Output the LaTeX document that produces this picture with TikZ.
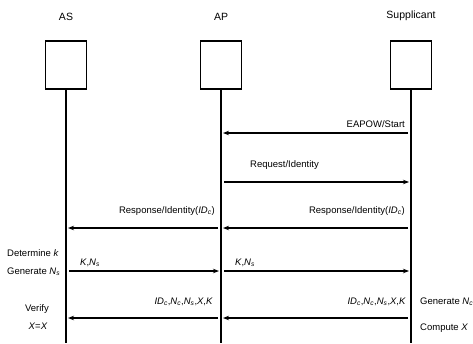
\documentclass[tikz,border=0pt]{standalone}
\usepackage{fontspec}
\setmainfont{Liberation Sans}
\usetikzlibrary{
    arrows.meta,
    positioning,
    calc
}
\newcommand{\mvar}[2]{\textit{#1}\textsubscript{\textit{#2}}}
\tikzstyle{entity} = [
    rectangle,
    draw,
    line width=1.8pt,
    minimum width=41pt,
    minimum height=48pt
]
\tikzstyle{title} = [
    font=\fontsize{10.5}{12}\selectfont
]
\tikzstyle{lifeline} = [
    line width=1.8pt
]
\tikzstyle{msg} = [
    -{Stealth[length=6pt,width=4.5pt]},
    line width=1.5pt,
    shorten <=3pt,
    shorten >=2pt
]
\tikzstyle{lbl} = [
    inner sep=1pt,
    font=\fontsize{9.5}{11}\selectfont
]

\begin{document}
\begin{tikzpicture}[x=1pt, y=-1pt]
    \useasboundingbox (0,0) rectangle (473,343);

    % Entities
    \node[entity] (asbox) at (66,65) {};
    \node[entity] (apbox) at (221,65) {};
    \node[entity] (supbox) at (411,65) {};
    \node[title, above=16pt of asbox] (as) {AS};
    \node[title, above=16pt of apbox] (ap) {AP};
    \node[title, above=16pt of supbox] (sup) {Supplicant};

    % Lifelines
    \coordinate (asend) at (66,343);
    \coordinate (apend) at (221,343);
    \coordinate (supend) at (411,343);
    \draw[lifeline] (asbox) -- (asend);
    \draw[lifeline] (apbox) -- (apend);
    \draw[lifeline] (supbox) -- (supend);

    % Message points
    \foreach \y [count=\i] in {133,182,228,271,318} {
        \coordinate (as\i) at (66,\y);
        \coordinate (ap\i) at (221,\y);
        \coordinate (sup\i) at (411,\y);
    }

    % Messages
    \draw[msg] (sup1) -- (ap1);
    \draw[msg] (ap2) -- (sup2);
    \draw[msg] (sup3) -- (ap3);
    \draw[msg] (ap3) -- (as3);
    \draw[msg] (as4) -- (ap4);
    \draw[msg] (ap4) -- (sup4);
    \draw[msg] (sup5) -- (ap5);
    \draw[msg] (ap5) -- (as5);

    % Message labels
    \node[lbl, above left=4pt and 5pt of sup1] (start) {EAPOW/Start};
    \node[lbl, above right=11pt and 28pt of ap2] (reqid) {Request/Identity};
    \node[lbl, above left=11pt and 5pt of sup3] (respsup) {Response/Identity(\mvar{ID}{c})};
    \node[lbl, above left=11pt and 5pt of ap3] (respap) {Response/Identity(\mvar{ID}{c})};
    \node[lbl, above right=3pt and 13pt of as4] (keyas) {\textit{K},\mvar{N}{s}};
    \node[lbl, above right=3pt and 13pt of ap4] (keyap) {\textit{K},\mvar{N}{s}};
    \node[lbl, above left=11pt and 4pt of sup5] (idsup) {\mvar{ID}{c},\mvar{N}{c},\mvar{N}{s},\textit{X},\textit{K}};
    \node[lbl, above left=11pt and 7pt of ap5] (idap) {\mvar{ID}{c},\mvar{N}{c},\mvar{N}{s},\textit{X},\textit{K}};

    % Side notes
    \node[lbl, anchor=west] (detk) at (6,253) {Determine \textit{k}};
    \node[lbl, anchor=west] (gens) at (6,272) {Generate \mvar{N}{s}};
    \node[lbl] (verify) at (37,309) {Verify};
    \node[lbl] (xeqx) at (38,326) {\textit{X}=\textit{X}};
    \node[lbl, anchor=west] (genc) at (419,302) {Generate \mvar{N}{c}};
    \node[lbl, anchor=west] (compx) at (419,328) {Compute \textit{X}};
\end{tikzpicture}
\end{document}
